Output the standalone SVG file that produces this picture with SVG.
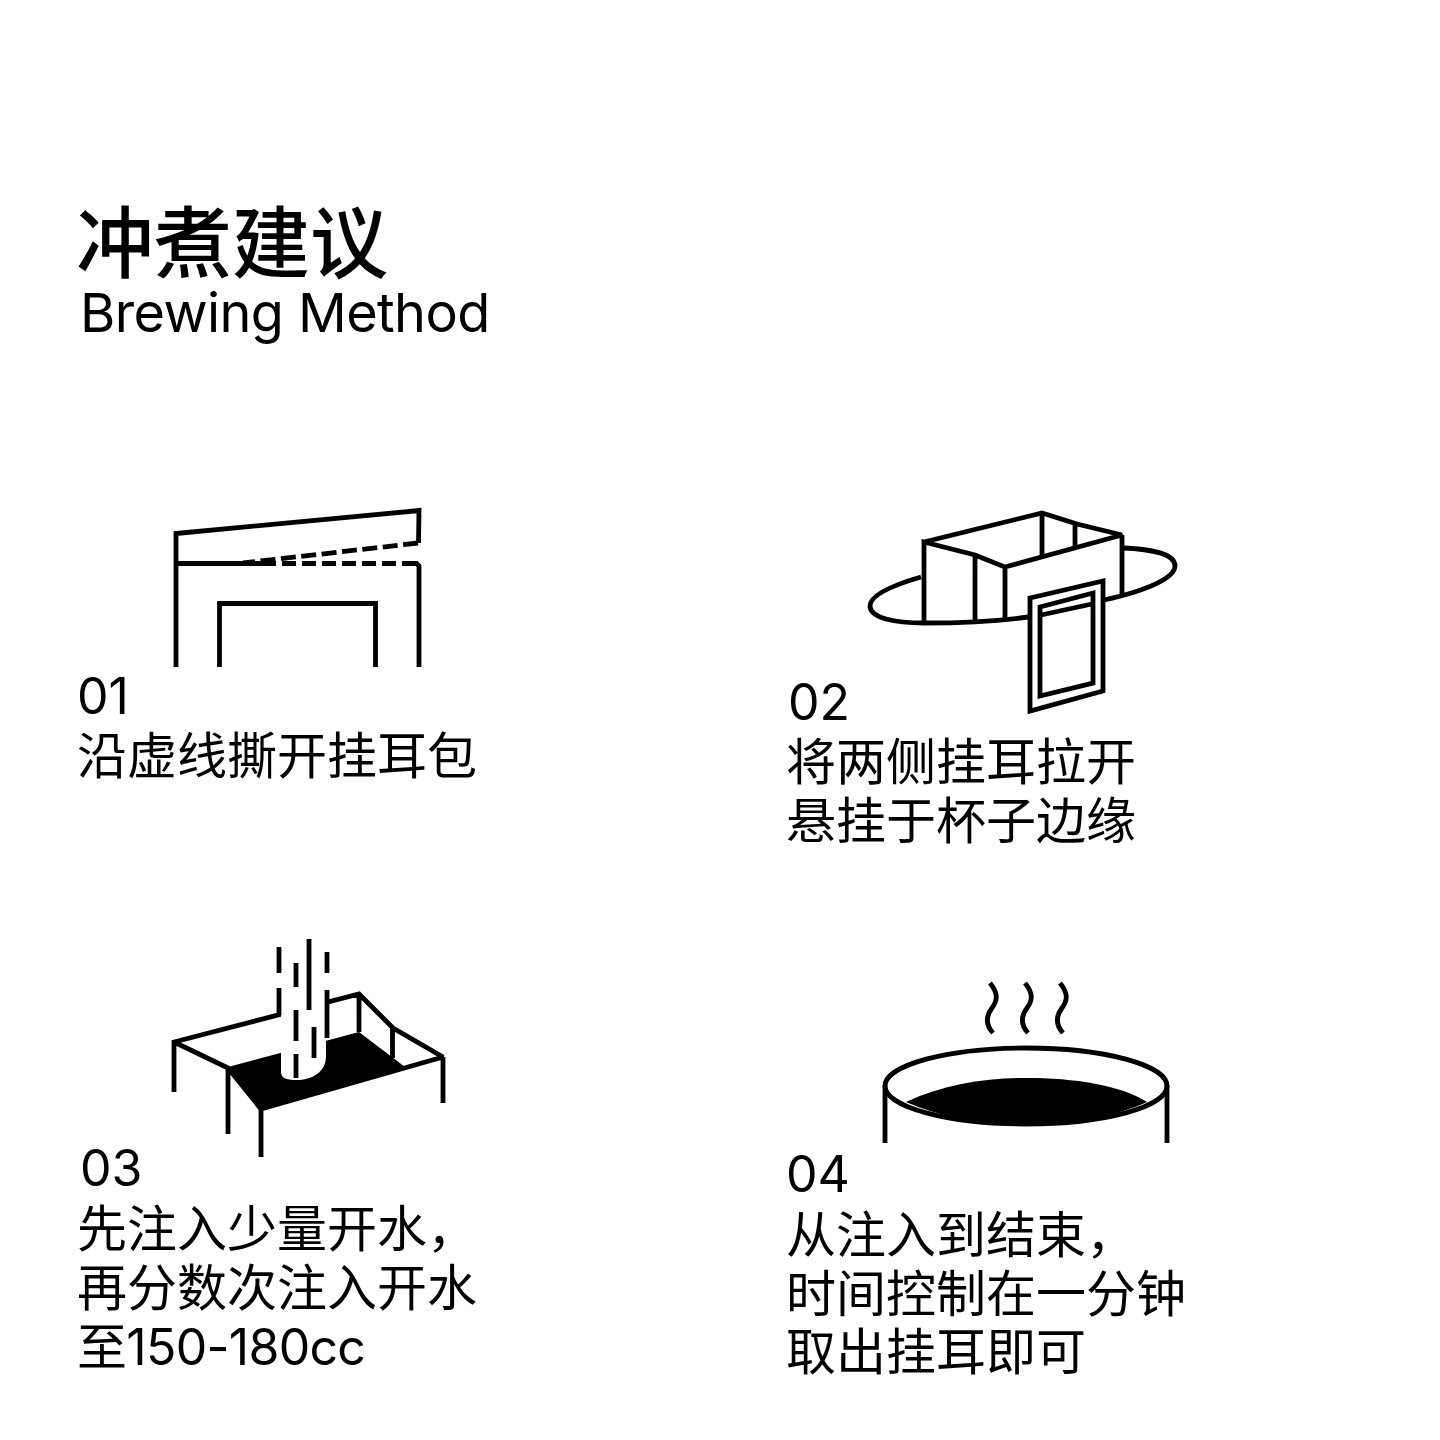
<svg xmlns="http://www.w3.org/2000/svg" width="1440" height="1440" viewBox="0 0 1440 1440">
<style>
.l{fill:none;stroke:#000;stroke-width:4.800;stroke-linejoin:miter;stroke-miterlimit:2}
.k{fill:#000}
.w{fill:#fff}
text{fill:#000;font-family:"Inter","Noto Sans CJK SC",sans-serif}
.t{font-size:78px;font-weight:500}
.e{font-size:54px;letter-spacing:-.6px}
.n{font-size:50px}
.b{font-size:50px}
.s{letter-spacing:-.7px}
</style>
<rect width="1440" height="1440" fill="#fff"/>
<g id="title">
<text class="t" x="76" y="272">冲煮建议</text>
<text class="e" x="80" y="332">Brewing Method</text>
</g>
<g id="step1">
<path class="l" d="M176,667V533.5L419,510.5L418.500,543"/>
<path class="l" d="M176,563.500H262"/>
<path class="l" stroke-dasharray="14 6" d="M262,563.500H414"/>
<path class="l" d="M414,563.500H416.500L419,566V667"/>
<path class="l" stroke-dasharray="15 5.500" d="M418,543L243,563"/>
<path class="l" d="M219.500,667V603.500H375.500V667"/>
<text class="n" x="77" y="714">01</text>
<text class="b" x="77" y="774">沿虚线撕开挂耳包</text>
</g>
<g id="step2">
<path class="l" d="M921,577C890,586 870,596 870,606C870,618 895,623 924,623C960,623 1000,621 1028,617"/>
<path class="l" d="M1122,548C1155,549 1175,555 1175,566C1175,577 1150,590 1104,600"/>
<path class="l" d="M924,623V542L975,555L1005,567V620M975,555V622M1005,567L1122,535L1077,524L1042,513L924,542M1042,513V555M1075,524V546M1122,535V597"/>
<path class="l" d="M1030,598L1103,581V691L1030,711Z"/>
<path class="l" d="M1040,607L1093,593V683L1040,696Z"/>
<path class="l" d="M1041,615L1092,604"/>
<text class="n" x="788" y="720">02</text>
<text class="b" x="786" y="780">将两侧挂耳拉开</text>
<text class="b" x="786" y="839">悬挂于杯子边缘</text>
</g>
<g id="step3">
<path class="k" d="M228,1067L359,1032L405,1067L261,1109Z"/>
<path class="l" d="M174,1092V1042L359,994L393,1028L443,1057L261,1109L228,1068L174,1042M228,1068V1134M261,1109V1157M443,1057V1103M359,994V1032M392.500,1028V1058"/>
<path class="w" d="M281,1000H326V1056C326,1072 312,1080 296,1080C286,1080 281,1078 281,1072Z"/>
<path class="l" d="M279,947V973M279,988V1015M327,952V973M327,990V1038M296,963V987M296,1010V1041M296,1054V1078M309,939V1010M314,1027V1058"/>
<text class="n" x="80" y="1186">03</text>
<text class="b" x="77" y="1247">先注入少量开水，</text>
<text class="b" x="77" y="1306">再分数次注入开水</text>
<text class="b s" x="77" y="1365">至150-180cc</text>
</g>
<g id="step4">
<path class="k" d="M906,1102C945,1084 985,1078 1026,1078C1075,1078 1120,1085 1147,1102C1115,1117 1070,1124 1026,1124C980,1124 940,1117 906,1102Z"/>
<ellipse class="l" cx="1026" cy="1086" rx="141" ry="38"/>
<path class="l" d="M885,1085V1143M1167,1085V1143"/>
<path class="l" d="M990,983C998,993 998,1000 992,1008C986,1016 985,1024 993,1033"/>
<path class="l" d="M1025,983C1033,993 1033,1000 1027,1008C1021,1016 1020,1024 1028,1033"/>
<path class="l" d="M1060,983C1068,993 1068,1000 1062,1008C1056,1016 1055,1024 1063,1033"/>
<text class="n" x="786" y="1192">04</text>
<text class="b" x="786" y="1253">从注入到结束，</text>
<text class="b" x="786" y="1312">时间控制在一分钟</text>
<text class="b" x="786" y="1370">取出挂耳即可</text>
</g>
</svg>
